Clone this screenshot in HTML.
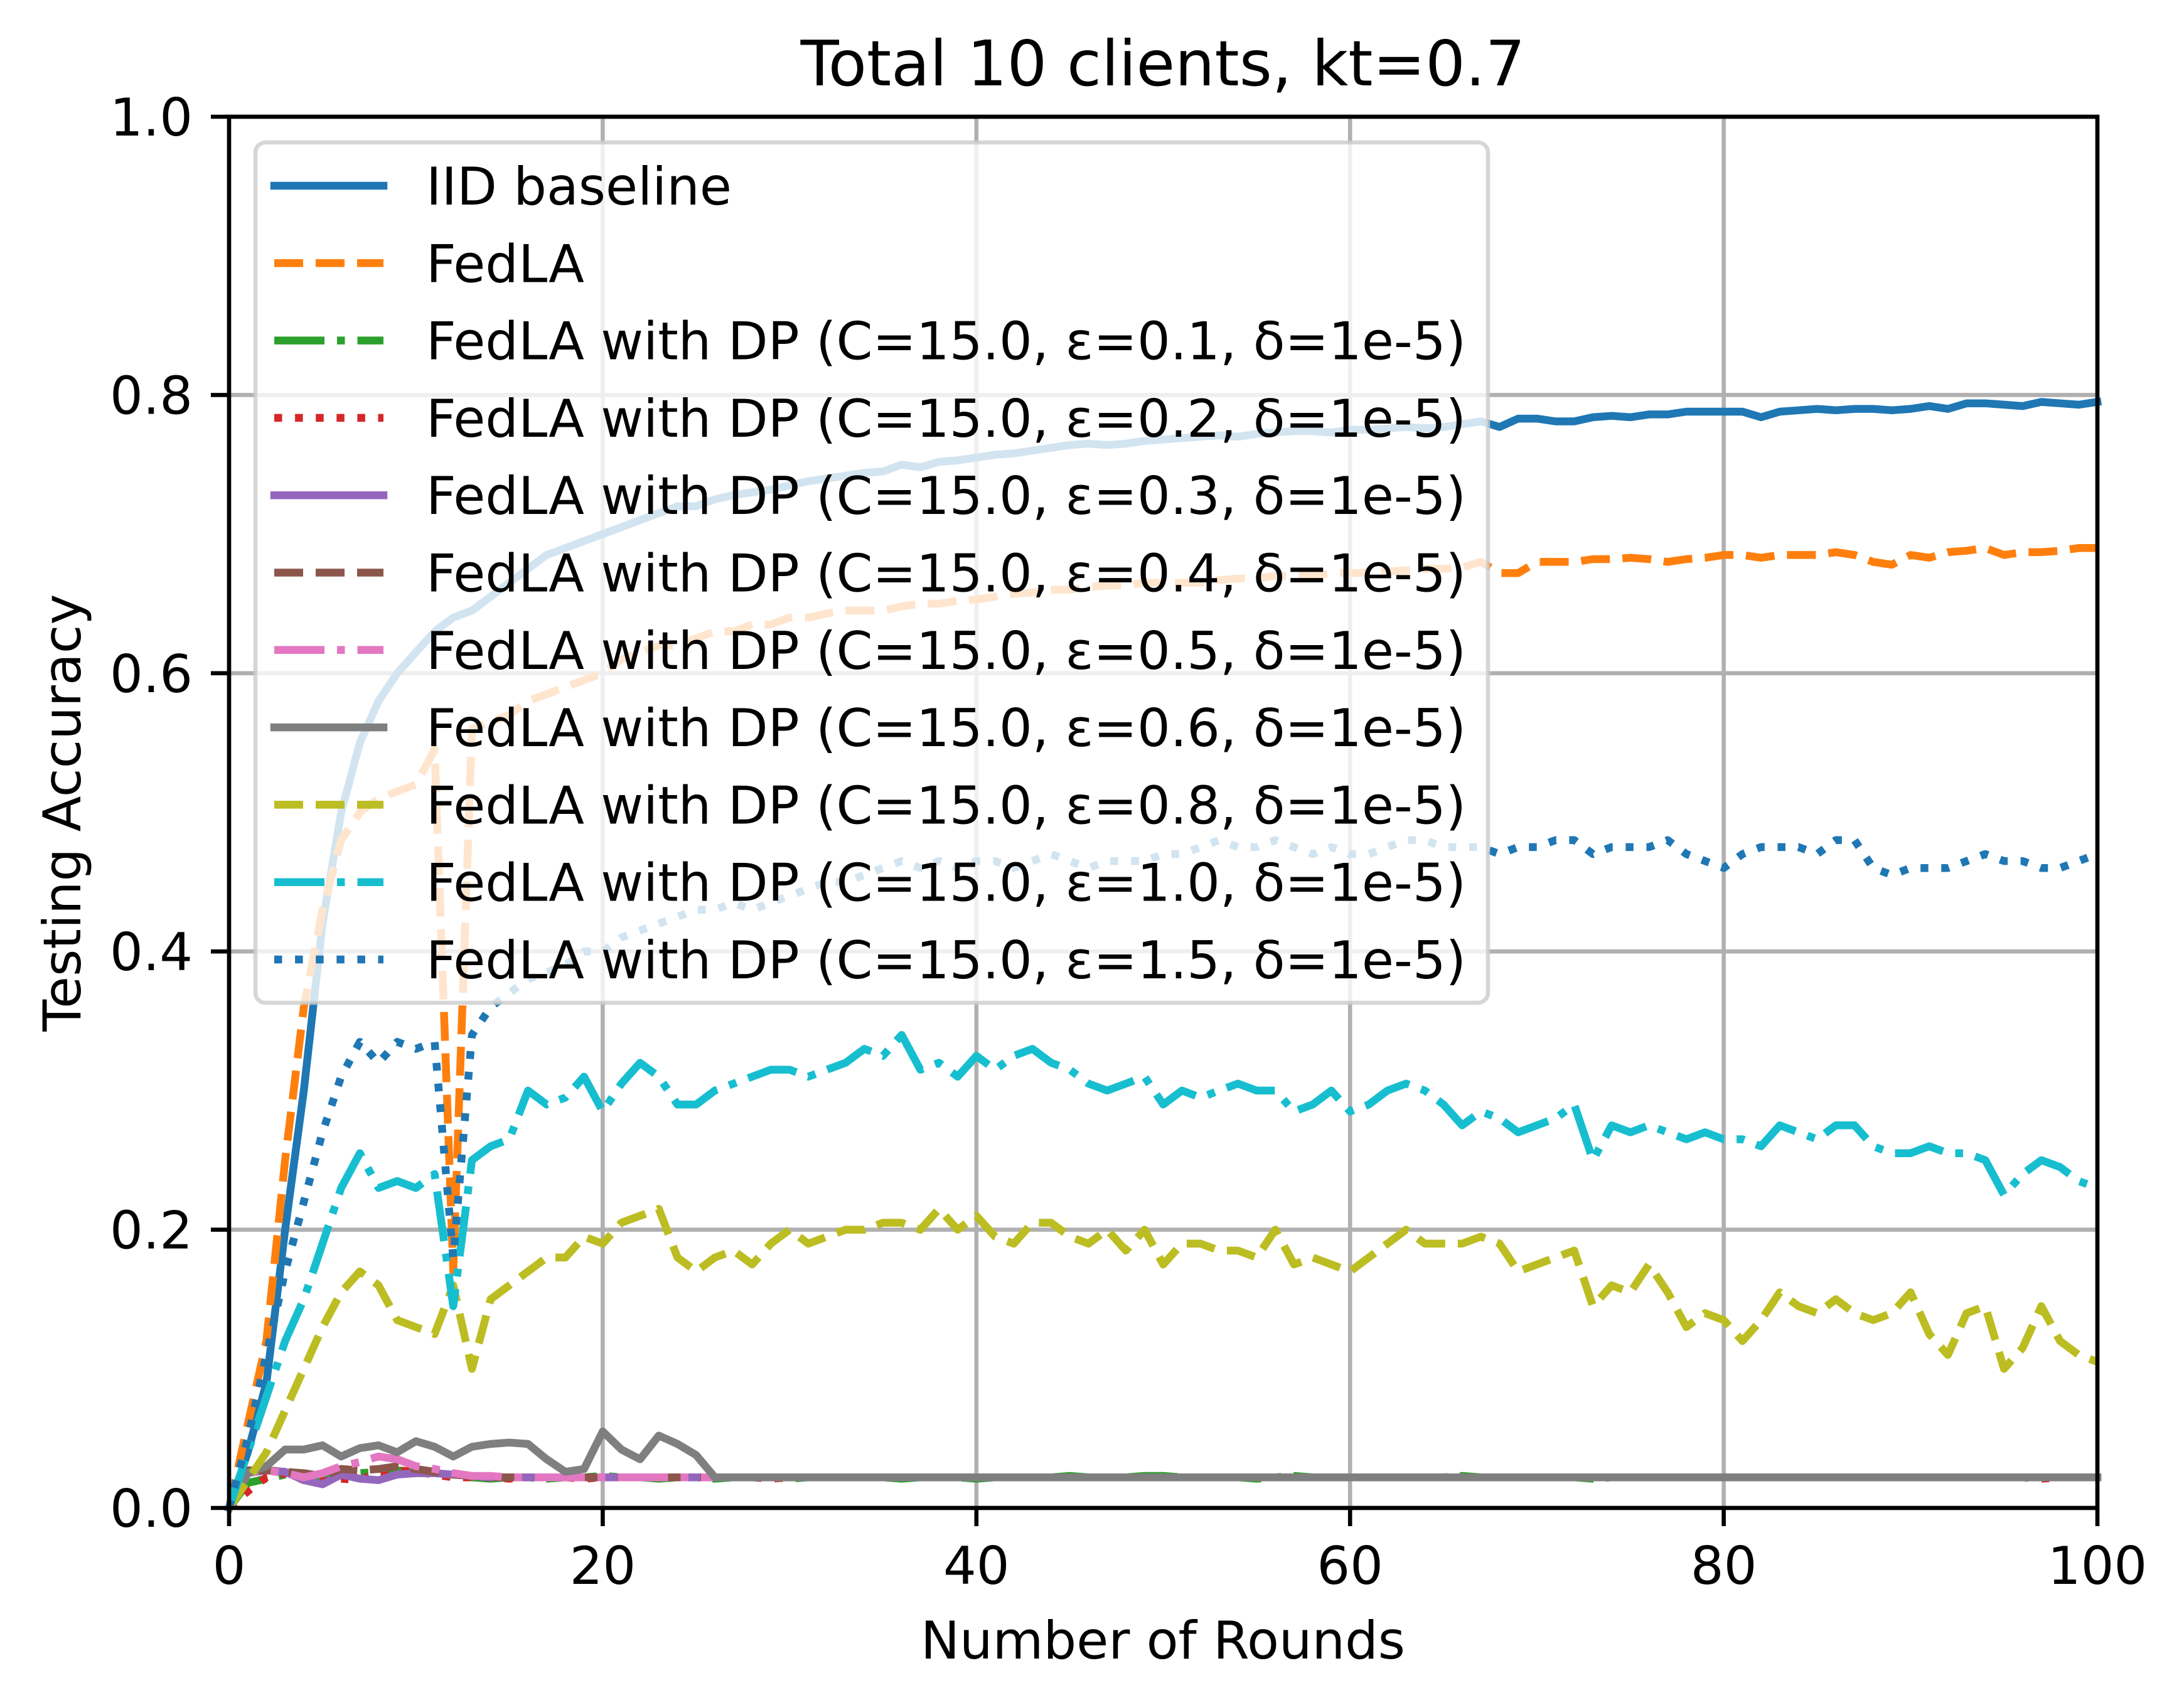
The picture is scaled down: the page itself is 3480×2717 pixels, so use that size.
<!DOCTYPE html>
<html><head><meta charset="utf-8">
<style>
html,body{margin:0;padding:0;background:#fff;}
svg{display:block;font-family:"DejaVu Sans","Liberation Sans",sans-serif;}
</style></head>
<body>
<svg id="chart" width="3480" height="2717" viewBox="0 0 3480 2717" xmlns="http://www.w3.org/2000/svg">
<rect x="0" y="0" width="3480" height="2717" fill="#fff"/>
<g id="grid"></g>
<g id="series"></g>
<g id="axes"></g>
<g id="legend"></g>
<text x="1853" y="136" font-size="100" text-anchor="middle">Total 10 clients, kt=0.7</text>
<text x="1853" y="2643" font-size="83" text-anchor="middle">Number of Rounds</text>
<text x="0" y="0" font-size="83" text-anchor="middle" transform="translate(128,1295) rotate(-90)">Testing Accuracy</text>
</svg>
<script>
const xTicks = [0, 20, 40, 60, 80, 100];
const yTicks = [0.0, 0.2, 0.4, 0.6, 0.8, 1.0];
const yTickLabels = ["0.0", "0.2", "0.4", "0.6", "0.8", "1.0"];

const iid = [0,.04,.09,.2,.3,.42,.5,.55,.58,.6,.615,.63,.64,.645,.655,.665,.675,.685,.69,.695,.70,.705,.71,.715,.72,.72,.725,.728,.73,.732,.735,.738,.74,.742,.744,.745,.75,.748,.752,.753,.755,.757,.758,.76,.762,.764,.765,.764,.765,.767,.768,.769,.77,.771,.77,.772,.773,.774,.774,.773,.775,.775,.776,.777,.776,.777,.779,.781,.777,.783,.783,.781,.781,.784,.785,.784,.786,.786,.788,.788,.788,.788,.784,.788,.789,.79,.789,.79,.79,.789,.79,.792,.79,.794,.794,.793,.792,.795,.794,.793,.795];
const fedla = [0,.06,.12,.25,.36,.43,.48,.50,.51,.515,.52,.545,.17,.56,.565,.57,.58,.585,.59,.595,.60,.61,.615,.62,.62,.625,.63,.63,.635,.635,.64,.64,.643,.645,.645,.645,.648,.65,.65,.652,.653,.655,.657,.658,.66,.66,.662,.663,.663,.665,.665,.665,.665,.667,.668,.668,.67,.67,.67,.672,.672,.672,.673,.674,.675,.675,.676,.68,.672,.672,.68,.68,.68,.682,.682,.683,.682,.68,.682,.683,.685,.685,.683,.685,.685,.685,.687,.685,.68,.678,.685,.683,.687,.688,.69,.685,.687,.687,.688,.69,.69];
const eps01 = [0,.018,.021,.024,.023,.022,.026,.025,.026,.027,.026,.025,.022,.022,.021,.022,.022,.021,.022,.022,.023,.022,.022,.021,.022,.022,.021,.022,.022,.022,.021,.022,.022,.022,.022,.022,.021,.022,.022,.022,.021,.022,.022,.022,.022,.023,.022,.022,.022,.023,.023,.022,.022,.022,.022,.021,.022,.023,.022,.022,.022,.022,.022,.022,.022,.022,.023,.022,.022,.022,.022,.022,.022,.021,.022,.022,.022,.022,.022,.022,.022,.022,.022,.022,.022,.022,.022,.022,.022,.022,.022,.022,.022,.022,.022,.022,.022,.022,.022,.022,.022];
const eps02 = [0,.012,.022,.025,.02,.019,.021,.02,.026,.027,.026,.024,.022,.022,.022,.021,.022,.022,.022,.021,.022,.022,.022,.022,.022,.022,.022,.022,.022,.021,.022,.022,.022,.022,.022,.022,.022,.022,.022,.022,.022,.022,.022,.022,.022,.022,.022,.022,.022,.022,.022,.022,.022,.022,.022,.022,.022,.022,.022,.022,.022,.022,.022,.022,.022,.022,.022,.022,.022,.022,.022,.022,.022,.022,.022,.022,.022,.022,.022,.022,.022,.022,.022,.022,.022,.022,.022,.022,.022,.022,.022,.022,.022,.022,.022,.022,.022,.021,.022,.022,.022];
const eps03 = [0,.025,.027,.026,.02,.017,.024,.021,.02,.024,.025,.025,.024,.023,.022,.022,.022,.022,.022,.022,.022,.022,.022,.022,.022,.022,.022,.022,.022,.022,.022,.022,.022,.022,.022,.022,.022,.022,.022,.022,.022,.022,.022,.022,.022,.022,.022,.022,.022,.022,.022,.022,.022,.022,.022,.022,.022,.022,.022,.022,.022,.022,.022,.022,.022,.022,.022,.022,.022,.022,.022,.022,.022,.022,.022,.022,.022,.022,.022,.022,.022,.022,.022,.022,.022,.022,.022,.022,.022,.022,.022,.022,.022,.022,.022,.022,.022,.022,.022,.022,.022];
const eps04 = [0,.027,.027,.026,.025,.023,.028,.027,.028,.03,.028,.026,.024,.023,.022,.022,.022,.022,.022,.022,.022,.022,.022,.022,.022,.022,.022,.022,.022,.022,.022,.022,.022,.022,.022,.022,.022,.022,.022,.022,.022,.022,.022,.022,.022,.022,.022,.022,.022,.022,.022,.022,.022,.022,.022,.022,.022,.022,.022,.022,.022,.022,.022,.022,.022,.022,.022,.022,.022,.022,.022,.022,.022,.022,.022,.022,.022,.022,.022,.022,.022,.022,.022,.022,.022,.022,.022,.022,.022,.022,.022,.022,.022,.022,.022,.022,.022,.022,.022,.022,.022];
const eps05 = [0,.025,.027,.025,.022,.025,.03,.033,.037,.035,.03,.028,.025,.023,.023,.022,.022,.022,.022,.022,.022,.022,.022,.022,.022,.022,.022,.022,.022,.022,.022,.022,.022,.022,.022,.022,.022,.022,.022,.022,.022,.022,.022,.022,.022,.022,.022,.022,.022,.022,.022,.022,.022,.022,.022,.022,.022,.022,.022,.022,.022,.022,.022,.022,.022,.022,.022,.022,.022,.022,.022,.022,.022,.022,.022,.022,.022,.022,.022,.022,.022,.022,.022,.022,.022,.022,.022,.022,.022,.022,.022,.022,.022,.022,.022,.022,.022,.022,.022,.022,.022];
const eps06 = [0,.025,.03,.042,.042,.045,.037,.043,.045,.04,.048,.044,.037,.044,.046,.047,.046,.035,.026,.028,.055,.042,.035,.052,.046,.038,.022,.022,.022,.022,.022,.022,.022,.022,.022,.022,.022,.022,.022,.022,.022,.022,.022,.022,.022,.022,.022,.022,.022,.022,.022,.022,.022,.022,.022,.022,.022,.022,.022,.022,.022,.022,.022,.022,.022,.022,.022,.022,.022,.022,.022,.022,.022,.022,.022,.022,.022,.022,.022,.022,.022,.022,.022,.022,.022,.022,.022,.022,.022,.022,.022,.022,.022,.022,.022,.022,.022,.022,.022,.022,.022];
const eps08 = [0,.02,.04,.07,.10,.13,.155,.17,.16,.135,.13,.125,.16,.10,.15,.16,.17,.18,.18,.195,.19,.205,.21,.215,.18,.17,.18,.185,.175,.19,.20,.19,.195,.20,.20,.205,.205,.20,.215,.20,.21,.195,.19,.205,.205,.195,.19,.20,.185,.20,.175,.19,.19,.185,.185,.18,.20,.175,.18,.175,.17,.18,.19,.20,.19,.19,.19,.195,.19,.17,.175,.18,.185,.145,.16,.155,.175,.155,.13,.14,.135,.12,.135,.155,.145,.14,.15,.14,.135,.14,.155,.125,.11,.14,.145,.10,.115,.145,.12,.11,.105];
const eps10 = [0,.04,.08,.12,.15,.19,.23,.255,.23,.235,.23,.24,.145,.25,.26,.265,.30,.29,.295,.31,.285,.305,.32,.31,.29,.29,.30,.305,.31,.315,.315,.31,.315,.32,.33,.325,.34,.315,.32,.31,.325,.315,.325,.33,.32,.315,.305,.30,.305,.31,.29,.30,.295,.30,.305,.30,.30,.285,.29,.30,.285,.29,.30,.305,.30,.29,.275,.285,.28,.27,.275,.28,.29,.25,.275,.27,.275,.27,.265,.27,.265,.265,.26,.275,.27,.265,.275,.275,.26,.255,.255,.26,.255,.255,.25,.225,.24,.25,.245,.235,.23];
const eps15 = [0,.05,.11,.17,.22,.27,.31,.335,.32,.335,.33,.335,.18,.34,.36,.37,.38,.385,.39,.40,.40,.41,.415,.42,.425,.43,.43,.435,.43,.435,.44,.445,.45,.45,.455,.46,.465,.46,.465,.46,.465,.465,.46,.465,.47,.465,.46,.465,.465,.465,.47,.47,.475,.48,.475,.475,.48,.475,.47,.475,.47,.47,.475,.48,.48,.475,.475,.475,.47,.475,.475,.48,.48,.47,.475,.475,.475,.48,.47,.465,.46,.47,.475,.475,.475,.47,.48,.48,.46,.455,.46,.46,.46,.465,.47,.465,.465,.46,.46,.465,.47];

const L = 365, R = 3342, T = 186, B = 2403;
function xs(v){ return L + (v - 0) / (100 - 0) * (R - L); }
function ys(v){ return B - (v - 0) / (1 - 0) * (B - T); }
const NS = "http://www.w3.org/2000/svg";
function mk(tag, attrs, parent){ const e = document.createElementNS(NS, tag); for (const k in attrs) e.setAttribute(k, attrs[k]); parent.appendChild(e); return e; }

const LW = 12.5, SW = 6.6, FS = 83;
const grid = document.getElementById('grid');
xTicks.forEach(t => {
  const g = mk('line', {x1: xs(t), x2: xs(t), y1: T, y2: B, stroke: '#b0b0b0', 'stroke-width': SW}, grid);
  
  
});
yTicks.forEach(t => {
  const g = mk('line', {x1: L, x2: R, y1: ys(t), y2: ys(t), stroke: '#b0b0b0', 'stroke-width': SW}, grid);
  
  
});

const DASH = '46,20', DASHDOT = '80,20,12.5,20', DOT = '12.5,20.6';
const seriesDefs = [
  {data: iid, color: '#1f77b4', dash: null, label: 'IID baseline', name: 'iid-baseline'},
  {data: fedla, color: '#ff7f0e', dash: DASH, label: 'FedLA', name: 'fedla'},
  {data: eps01, color: '#2ca02c', dash: DASHDOT, label: 'FedLA with DP (C=15.0, ε=0.1, δ=1e-5)', name: 'dp-eps-0-1'},
  {data: eps02, color: '#d62728', dash: DOT, label: 'FedLA with DP (C=15.0, ε=0.2, δ=1e-5)', name: 'dp-eps-0-2'},
  {data: eps03, color: '#9467bd', dash: null, label: 'FedLA with DP (C=15.0, ε=0.3, δ=1e-5)', name: 'dp-eps-0-3'},
  {data: eps04, color: '#8c564b', dash: DASH, label: 'FedLA with DP (C=15.0, ε=0.4, δ=1e-5)', name: 'dp-eps-0-4'},
  {data: eps05, color: '#e377c2', dash: DASHDOT, label: 'FedLA with DP (C=15.0, ε=0.5, δ=1e-5)', name: 'dp-eps-0-5'},
  {data: eps06, color: '#7f7f7f', dash: null, label: 'FedLA with DP (C=15.0, ε=0.6, δ=1e-5)', name: 'dp-eps-0-6'},
  {data: eps08, color: '#bcbd22', dash: DASH, label: 'FedLA with DP (C=15.0, ε=0.8, δ=1e-5)', name: 'dp-eps-0-8'},
  {data: eps10, color: '#17becf', dash: DASHDOT, label: 'FedLA with DP (C=15.0, ε=1.0, δ=1e-5)', name: 'dp-eps-1-0'},
  {data: eps15, color: '#1f77b4', dash: DOT, label: 'FedLA with DP (C=15.0, ε=1.5, δ=1e-5)', name: 'dp-eps-1-5'}
];

const sg = document.getElementById('series');
seriesDefs.forEach(s => {
  const pts = s.data.map((v, i) => xs(i).toFixed(1) + ',' + ys(v).toFixed(1)).join(' ');
  const attrs = {points: pts, fill: 'none', stroke: s.color, 'stroke-width': LW, 'stroke-linejoin': 'round', 'stroke-linecap': s.dash ? 'butt' : 'square'};
  if (s.dash) attrs['stroke-dasharray'] = s.dash;
  const p = mk('polyline', attrs, sg);
  
  
});

const ax = document.getElementById('axes');
xTicks.forEach(t => {
  const tk = mk('line', {x1: xs(t), x2: xs(t), y1: B, y2: B + 29, stroke: '#000', 'stroke-width': SW}, ax);
  
  
  const tx = mk('text', {x: xs(t), y: B + 58 + 63, 'font-size': FS, 'text-anchor': 'middle'}, ax);
  tx.textContent = String(t);
  
  
});
yTicks.forEach((t, i) => {
  const tk = mk('line', {x1: L - 29, x2: L, y1: ys(t), y2: ys(t), stroke: '#000', 'stroke-width': SW}, ax);
  
  
  const tx = mk('text', {x: L - 58, y: ys(t) + 30, 'font-size': FS, 'text-anchor': 'end'}, ax);
  tx.textContent = yTickLabels[i];
  
  
});
const frame = mk('rect', {x: L, y: T, width: R - L, height: B - T, fill: 'none', stroke: '#000', 'stroke-width': SW}, ax);



const lg = document.getElementById('legend');
const box = mk('rect', {x: 407, y: 227, width: 1964, height: 1371, rx: 16, fill: '#fff', 'fill-opacity': 0.8, stroke: '#cccccc', 'stroke-opacity': 0.8, 'stroke-width': SW}, lg);


seriesDefs.forEach((s, i) => {
  const y = 296 + i * 123.3;
  const attrs = {x1: 437, x2: 611, y1: y, y2: y, stroke: s.color, 'stroke-width': LW, 'stroke-linecap': s.dash ? 'butt' : 'square'};
  if (s.dash) attrs['stroke-dasharray'] = s.dash;
  const h = mk('line', attrs, lg);
  
  
  const tx = mk('text', {x: 679, y: y + 30, 'font-size': FS}, lg);
  tx.textContent = s.label;
  
  
});
</script>
</body></html>
